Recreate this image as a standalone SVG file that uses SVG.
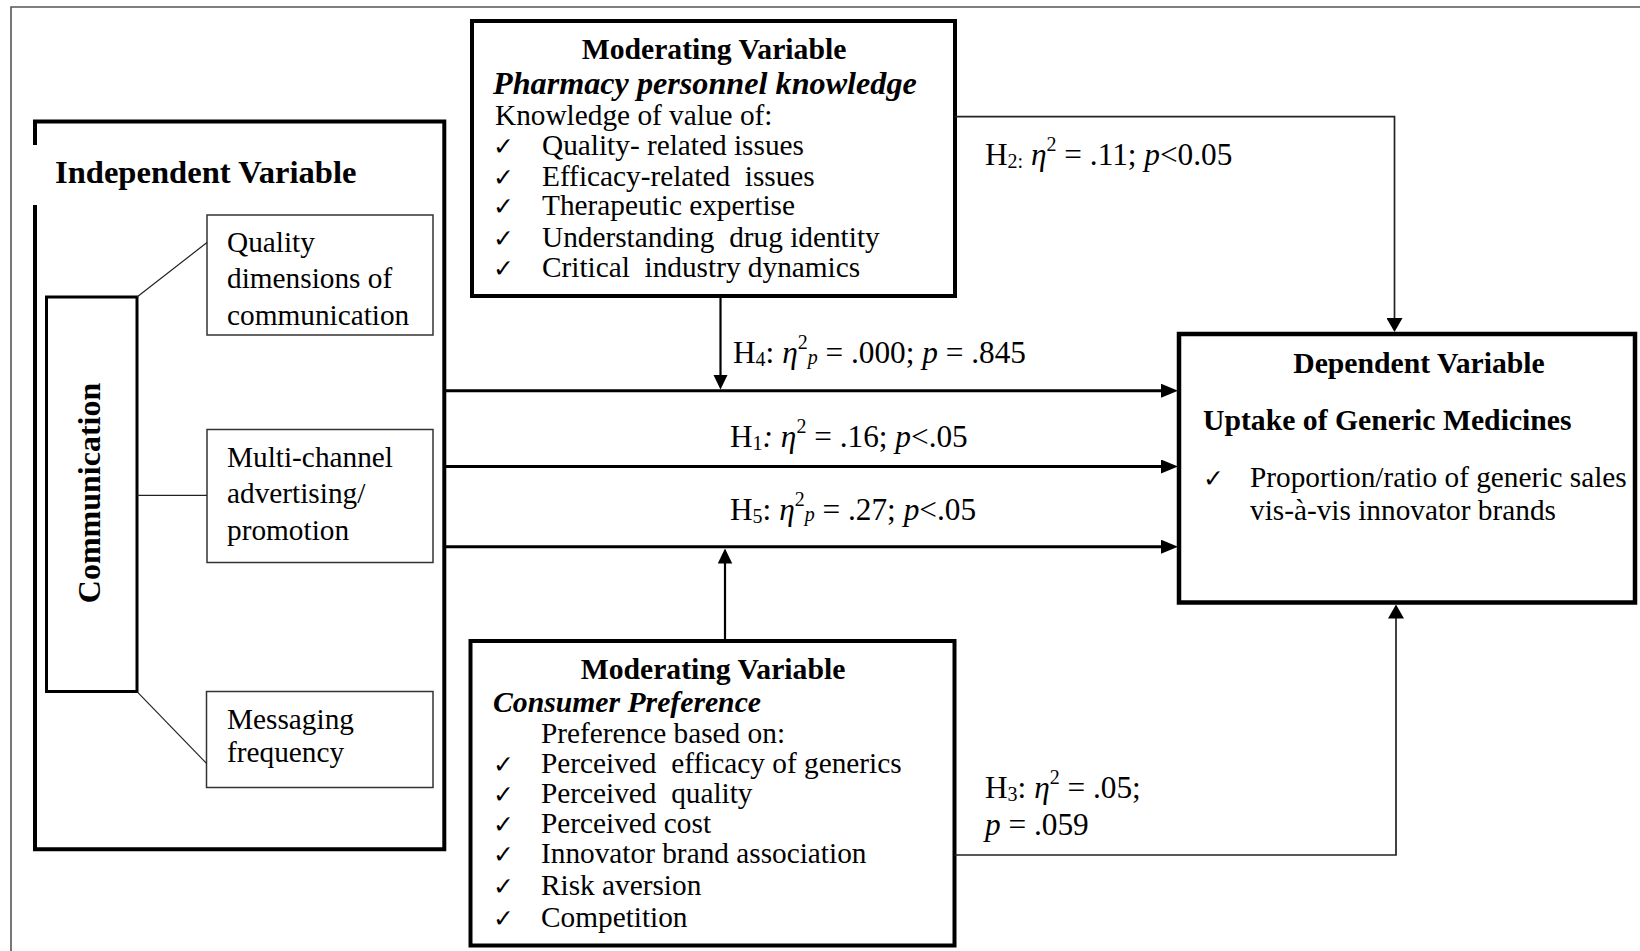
<svg xmlns="http://www.w3.org/2000/svg" width="1640" height="951" viewBox="0 0 1640 951">
  <style>
    .t { font-family: "Liberation Serif", "Times New Roman", serif; font-size: 29.3px; fill: #000; }
    .b { font-weight: bold; }
    .i { font-style: italic; }
    .h { font-size: 29.7px; }
    .big { font-size: 32.6px; }
    .vert { font-size: 32px; }
    .sub { font-size: 32.2px; }
    .lbl { font-size: 31.3px; }
    .s { font-size: 20px; }
    .ck { font-family: "DejaVu Sans", sans-serif; font-size: 25px; font-weight: bold; fill: #000; }
    .thick { fill: #fff; stroke: #000; stroke-width: 4; }
    .thin { fill: #fff; stroke: #333; stroke-width: 1.5; }
    .link { fill: none; stroke: #222; stroke-width: 1.2; }
    .main { fill: none; stroke: #000; stroke-width: 3; }
    .mod { fill: none; stroke: #000; stroke-width: 2.2; }
    .hyp { fill: none; stroke: #222; stroke-width: 1.7; }
  </style>
  <defs>
    <marker id="headMain" markerUnits="userSpaceOnUse" markerWidth="17" markerHeight="14" refX="2" refY="7" orient="auto">
      <path d="M0,0 L17,7 L0,14 z" fill="#000"/>
    </marker>
    <marker id="headMod" markerUnits="userSpaceOnUse" markerWidth="15" markerHeight="15" refX="2" refY="7.25" orient="auto">
      <path d="M0,0 L15,7.25 L0,14.5 z" fill="#000"/>
    </marker>
    <marker id="headHyp" markerUnits="userSpaceOnUse" markerWidth="14" markerHeight="16" refX="2" refY="8" orient="auto">
      <path d="M0,0 L14,8 L0,16 z" fill="#000"/>
    </marker>
  </defs>

  <rect width="1640" height="951" fill="#fff"/>
  <!-- frame around the figure -->
  <path d="M11 951 V7 H1640" fill="none" stroke="#555" stroke-width="1.6"/>

  <!-- Independent variable block -->
  <g id="independent">
    <path d="M35 145 V121.5 H444.3 V849.3 H35 V205" fill="#fff" stroke="#000" stroke-width="4"/>
    <text class="t b big" x="55" y="183">Independent Variable</text>
  </g>

  <g id="communication">
    <rect x="46.5" y="297" width="90.5" height="394.5" fill="#fff" stroke="#000" stroke-width="3"/>
    <text class="t b vert" text-anchor="middle" transform="translate(99.5 493) rotate(-90)">Communication</text>
  </g>

  <g id="quality">
    <rect class="thin" x="207" y="215" width="226" height="120"/>
    <text class="t" x="227" y="252">Quality</text>
    <text class="t" x="227" y="288">dimensions of</text>
    <text class="t" x="227" y="325">communication</text>
  </g>

  <g id="multichannel">
    <rect class="thin" x="207" y="429.5" width="226" height="133"/>
    <text class="t" x="227" y="467">Multi-channel</text>
    <text class="t" x="227" y="503">advertising/</text>
    <text class="t" x="227" y="540">promotion</text>
  </g>

  <g id="messaging">
    <rect class="thin" x="206.5" y="691.5" width="226.5" height="96"/>
    <text class="t" x="227" y="729">Messaging</text>
    <text class="t" x="227" y="762">frequency</text>
  </g>

  <!-- Moderator: pharmacy personnel -->
  <g id="moderator-pharmacy">
    <rect class="thick" x="472" y="21" width="483" height="275"/>
    <text class="t b h" x="714" y="59" text-anchor="middle">Moderating Variable</text>
    <text class="t b i sub" x="493" y="94">Pharmacy personnel knowledge</text>
    <text class="t" x="495" y="125">Knowledge of value of:</text>
    <text class="ck" x="493" y="155">✓</text>
    <text class="ck" x="493" y="186">✓</text>
    <text class="ck" x="493" y="215">✓</text>
    <text class="ck" x="493" y="247">✓</text>
    <text class="ck" x="493" y="277">✓</text>
    <text class="t" x="542" y="155" xml:space="preserve">Quality- related issues</text>
    <text class="t" x="542" y="186" xml:space="preserve">Efficacy-related  issues</text>
    <text class="t" x="542" y="215" xml:space="preserve">Therapeutic expertise</text>
    <text class="t" x="542" y="247" xml:space="preserve">Understanding  drug identity</text>
    <text class="t" x="542" y="277" xml:space="preserve">Critical  industry dynamics</text>
  </g>

  <!-- Moderator: consumer preference -->
  <g id="moderator-consumer">
    <rect class="thick" x="470.5" y="641" width="484" height="304.5"/>
    <text class="t b h" x="713" y="679" text-anchor="middle">Moderating Variable</text>
    <text class="t b i h" x="493" y="712">Consumer Preference</text>
    <text class="t" x="541" y="743">Preference based on:</text>
    <text class="ck" x="493" y="773">✓</text>
    <text class="ck" x="493" y="803">✓</text>
    <text class="ck" x="493" y="833">✓</text>
    <text class="ck" x="493" y="863">✓</text>
    <text class="ck" x="493" y="895">✓</text>
    <text class="ck" x="493" y="927">✓</text>
    <text class="t" x="541" y="773" xml:space="preserve">Perceived  efficacy of generics</text>
    <text class="t" x="541" y="803" xml:space="preserve">Perceived  quality</text>
    <text class="t" x="541" y="833" xml:space="preserve">Perceived cost</text>
    <text class="t" x="541" y="863" xml:space="preserve">Innovator brand association</text>
    <text class="t" x="541" y="895" xml:space="preserve">Risk aversion</text>
    <text class="t" x="541" y="927" xml:space="preserve">Competition</text>
  </g>

  <!-- Dependent variable -->
  <g id="dependent">
    <rect x="1179" y="334" width="456" height="268.5" fill="#fff" stroke="#000" stroke-width="4.5"/>
    <text class="t b h" x="1419" y="373" text-anchor="middle">Dependent Variable</text>
    <text class="t b h" x="1203" y="430">Uptake of Generic Medicines</text>
    <text class="ck" x="1203" y="487">✓</text>
    <text class="t" x="1250" y="487">Proportion/ratio of generic sales</text>
    <text class="t" x="1250" y="520">vis-à-vis innovator brands</text>
  </g>

  <!-- connectors -->
  <g id="connectors">
    <line class="link" x1="137" y1="297" x2="207" y2="242.5"/>
    <line class="link" x1="137" y1="495.3" x2="207" y2="495.3" stroke-width="1.5"/>
    <line class="link" x1="137" y1="691.7" x2="206.5" y2="763.3"/>

    <line class="main" x1="446" y1="390.7" x2="1163" y2="390.7" marker-end="url(#headMain)"/>
    <line class="main" x1="446" y1="466.5" x2="1163" y2="466.5" marker-end="url(#headMain)"/>
    <line class="main" x1="446" y1="546.7" x2="1163" y2="546.7" marker-end="url(#headMain)"/>

    <line class="mod" x1="720.5" y1="296" x2="720.5" y2="376.5" marker-end="url(#headMod)"/>
    <line class="mod" x1="725" y1="641" x2="725" y2="561.5" marker-end="url(#headMod)"/>

    <path class="hyp" d="M955 116.7 H1394.5 V320" marker-end="url(#headHyp)"/>
    <path class="hyp" d="M954.5 855 H1396 V616.5" marker-end="url(#headHyp)"/>
  </g>

  <!-- effect-size labels -->
  <g id="labels">
    <text class="t lbl" x="985" y="165">H<tspan class="s" dy="3">2:</tspan><tspan dy="-3"> </tspan><tspan class="i">η</tspan><tspan class="s" dy="-14">2</tspan><tspan dy="14"> = .11; </tspan><tspan class="i">p</tspan>&lt;0.05</text>
    <text class="t lbl" x="733" y="363">H<tspan class="s" dy="3">4</tspan><tspan dy="-3">: </tspan><tspan class="i">η</tspan><tspan class="s" dy="-14">2</tspan><tspan class="s i" dy="15">p</tspan><tspan dy="-1"> = .000; </tspan><tspan class="i">p</tspan> = .845</text>
    <text class="t lbl" x="730" y="447">H<tspan class="s" dy="3">1</tspan><tspan class="i" dy="-3">: </tspan><tspan class="i">η</tspan><tspan class="s" dy="-14">2</tspan><tspan dy="14"> = .16; </tspan><tspan class="i">p</tspan>&lt;.05</text>
    <text class="t lbl" x="730" y="520">H<tspan class="s" dy="3">5</tspan><tspan dy="-3">: </tspan><tspan class="i">η</tspan><tspan class="s" dy="-14">2</tspan><tspan class="s i" dy="15">p</tspan><tspan dy="-1"> = .27; </tspan><tspan class="i">p</tspan>&lt;.05</text>
    <text class="t lbl" x="985" y="798">H<tspan class="s" dy="3">3</tspan><tspan dy="-3">: </tspan><tspan class="i">η</tspan><tspan class="s" dy="-14">2</tspan><tspan dy="14"> = .05;</tspan></text>
    <text class="t lbl" x="985" y="835"><tspan class="i">p</tspan> = .059</text>
  </g>
</svg>
